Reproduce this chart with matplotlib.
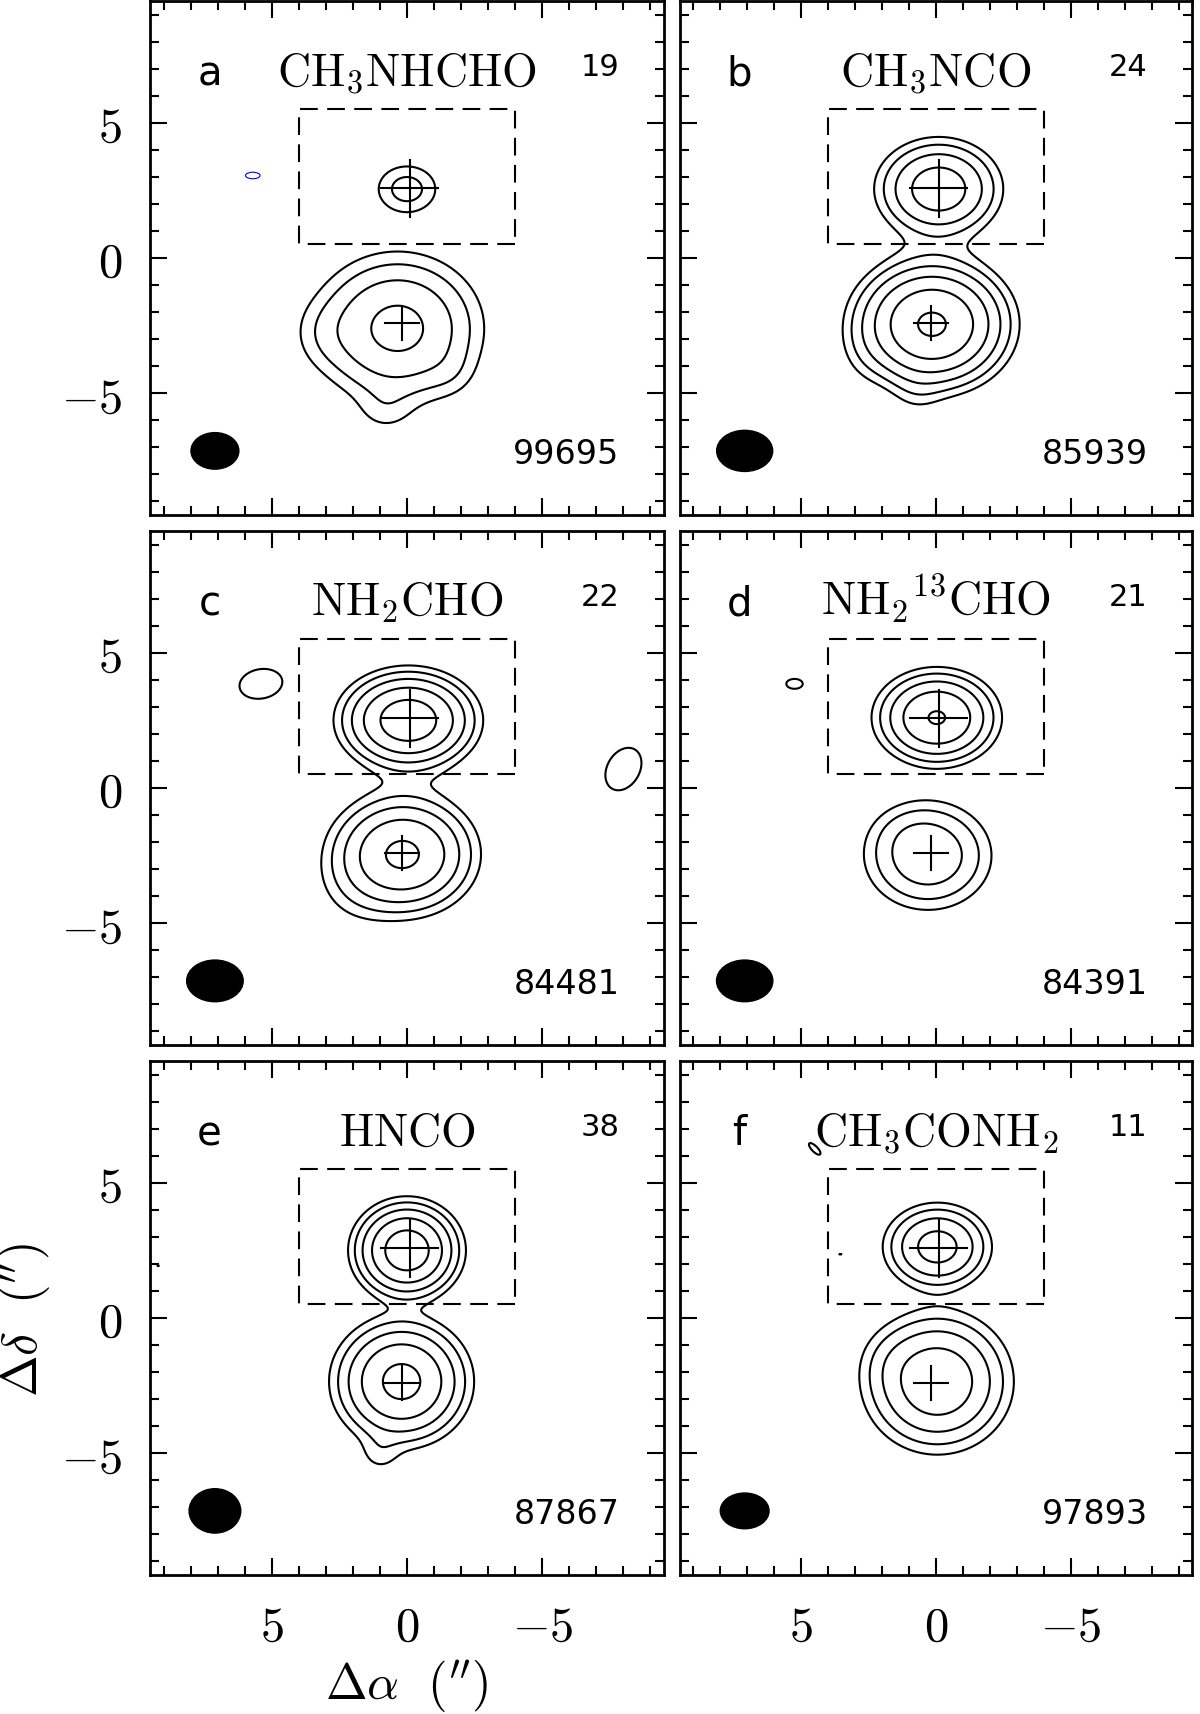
import numpy as np
import matplotlib.pyplot as plt
from matplotlib.patches import Ellipse, Rectangle

plt.rcParams['mathtext.fontset'] = 'cm'

# panel texts
letters = ['a', 'b', 'c', 'd', 'e', 'f']
molecules = [r'$\mathrm{CH_3NHCHO}$', r'$\mathrm{CH_3NCO}$', r'$\mathrm{NH_2CHO}$',
             r'$\mathrm{NH_2{}^{13}CHO}$', r'$\mathrm{HNCO}$', r'$\mathrm{CH_3CONH_2}$']
rms = [19, 24, 22, 21, 38, 11]
freqs = [99695, 85939, 84481, 84391, 87867, 97893]

# beam sizes (arcsec)
beam_major = [1.77, 2.08, 2.09, 2.09, 1.91, 1.81]
beam_minor = [1.35, 1.52, 1.54, 1.54, 1.64, 1.32]
beam_pos = (7.1, -7.13)

# continuum positions (N2 upper, N1 lower) and cross half sizes
cross_x = [-0.1, 0.18]
cross_y = [2.57, -2.41]
cross_half = [1.05, 0.62]

# region box
box_x = [-4.0, 4.0]
box_y = [0.5, 5.5]

# contour levels in units of sigma
levels_pos = [4, 8, 16, 32, 64, 128]
levels_neg = [-4]

# emission components: amplitude (sigma), x0, y0, sx, sy, pa (deg)
comp_a = [(10.5, 0.0, 2.55, 0.75, 0.6, 0), (39, 0.35, -2.6, 1.5, 1.33, 0),
          (4, 0.8, -5.6, 0.7, 0.6, 0), (3.5, 3.0, -2.8, 0.8, 0.8, 0),
          (2.5, -1.6, -4.2, 0.6, 0.6, 0),
          (-4.8, 5.7, 3.05, 0.45, 0.2, 0)]
comp_b = [(49, -0.1, 2.55, 1.07, 0.86, 0), (140, 0.15, -2.45, 1.22, 1.02, 0),
          (3, 0.7, -4.9, 0.6, 0.6, 0), (1.5, 0.0, 0.4, 1.5, 0.5, 0),
          (2.5, 2.6, -3.4, 0.6, 0.8, 0)]
comp_c = [(100, -0.05, 2.5, 1.09, 0.8, 0), (72, 0.15, -2.45, 1.2, 1.0, 0),
          (4, 1.8, -3.6, 1.0, 1.0, 0), (1.5, -0.2, 0.3, 1.6, 0.5, 0),
          (5.5, 5.4, 3.85, 1.0, 0.68, -10), (5.5, -8.0, 0.7, 0.75, 1.05, 30)]
comp_d = [(67, -0.03, 2.6, 1.02, 0.79, 0), (27.6, 0.3, -2.5, 1.2, 1.02, 0),
          (3, 0.9, -1.7, 0.8, 0.6, 0), (4.4, 5.25, 3.85, 0.7, 0.42, 0)]
comp_e = [(99, 0.0, 2.5, 0.86, 0.79, 0), (78, 0.2, -2.35, 1.1, 1.03, 0),
          (4.5, 1.0, -5.0, 0.5, 0.5, 0), (4.2, 9.2, 1.95, 0.2, 0.08, 0)]
comp_f = [(43, -0.05, 2.63, 0.93, 0.75, 0), (55, -0.05, -2.35, 1.24, 1.18, 0),
          (3, 1.6, -1.6, 0.7, 0.7, 0),
          (4.6, 4.5, 6.25, 0.55, 0.2, 45), (4.1, 3.55, 2.36, 0.18, 0.05, 0)]
components = [comp_a, comp_b, comp_c, comp_d, comp_e, comp_f]

tick_vals = [5, 0, -5]
tick_labels = ['$5$', '$0$', '$-5$']


def model_map(comps, xx, yy):
    z = np.zeros_like(xx)
    for amp, x0, y0, sx, sy, pa in comps:
        t = np.radians(pa)
        dx, dy = xx - x0, yy - y0
        u = dx*np.cos(t) + dy*np.sin(t)
        v = -dx*np.sin(t) + dy*np.cos(t)
        z += amp*np.exp(-u**2/(2*sx**2) - v**2/(2*sy**2))
    return z


grid = np.linspace(-9.5, 9.5, 400)
xx, yy = np.meshgrid(grid, grid)

fig = plt.figure(figsize=(12, 17.14), dpi=100)
W, H = 1200., 1714.
col_left = [150, 680]
col_w = [514, 512]
row_top = [1, 531, 1061]
row_h = 514
lw = 1.5

for i in range(6):
    r, c = divmod(i, 2)
    ax = fig.add_axes([col_left[c]/W, 1 - (row_top[r] + row_h)/H, col_w[c]/W, row_h/H])
    ax.set_xlim(9.5, -9.5)
    ax.set_ylim(-9.5, 9.5)

    z = model_map(components[i], xx, yy)
    ax.contour(xx, yy, z, levels=levels_pos, colors='k', linewidths=lw)
    if z.min() < levels_neg[0]:
        ax.contour(xx, yy, z, levels=levels_neg, colors='blue', linewidths=0.8,
                   linestyles='solid')

    ax.add_patch(Rectangle((box_x[0], box_y[0]), box_x[1] - box_x[0], box_y[1] - box_y[0],
                           fill=False, ec='k', lw=lw, ls=(0, (8.5, 4.5))))
    for cx, cy, h in zip(cross_x, cross_y, cross_half):
        ax.plot([cx - h, cx + h], [cy, cy], color='k', lw=lw)
        ax.plot([cx, cx], [cy - h, cy + h], color='k', lw=lw)

    ax.add_patch(Ellipse(beam_pos, beam_major[i], beam_minor[i], color='k'))

    ax.text(7.3, 6.38, letters[i], fontsize=29, ha='center', va='baseline')
    ax.text(0.0, 6.38, molecules[i], fontsize=33, ha='center', va='baseline')
    ax.text(-7.85, 6.72, str(rms[i]), fontsize=22, ha='right', va='baseline')
    ax.text(-7.85, -7.6, str(freqs[i]), fontsize=24, ha='right', va='baseline')

    ax.set_xticks(tick_vals)
    ax.set_yticks(tick_vals)
    ax.set_xticks(np.arange(-9, 10), minor=True)
    ax.set_yticks(np.arange(-9, 10), minor=True)
    ax.set_xticklabels(tick_labels if r == 2 else [])
    ax.set_yticklabels(tick_labels if c == 0 else [])
    ax.tick_params(which='both', direction='in', top=True, right=True, width=1.5,
                   labelsize=35)
    ax.tick_params(which='major', length=12, pad=20)
    ax.tick_params(which='minor', length=6.5)
    for s in ax.spines.values():
        s.set_linewidth(2)

fig.text(407/W, 1 - 1687/H, r'$\Delta\alpha\ \ (^{\prime\prime})$', fontsize=36,
         ha='center', va='center')
fig.text(25/W, 1 - 1320/H, r'$\Delta\delta\ \ (^{\prime\prime})$', fontsize=36,
         ha='center', va='center', rotation=90)

fig.savefig('out.png', dpi=100)
